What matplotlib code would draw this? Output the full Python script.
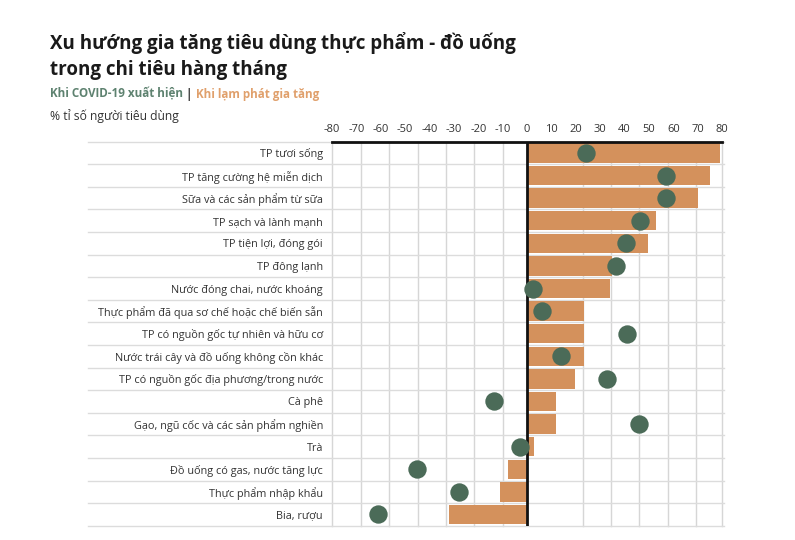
import matplotlib
matplotlib.use('Agg')
import matplotlib.pyplot as plt

plt.rcParams['font.family'] = ['Open Sans', 'DejaVu Sans']

categories = ['TP tươi sống', 'TP tăng cường hệ miễn dịch', 'Sữa và các sản phẩm từ sữa',
              'TP sạch và lành mạnh', 'TP tiện lợi, đóng gói', 'TP đông lạnh',
              'Nước đóng chai, nước khoáng', 'Thực phẩm đã qua sơ chế hoặc chế biến sẵn',
              'TP có nguồn gốc tự nhiên và hữu cơ', 'Nước trái cây và đồ uống không cồn khác',
              'TP có nguồn gốc địa phương/trong nước', 'Cà phê',
              'Gạo, ngũ cốc và các sản phẩm nghiền', 'Trà', 'Đồ uống có gas, nước tăng lực',
              'Thực phẩm nhập khẩu', 'Bia, rượu']
# Khi lạm phát gia tăng (bars)
inflation = [79, 75, 70, 53, 49.5, 35, 34, 23.5, 23.5, 23.5, 19.5, 12, 12, 3, -8, -11, -32]
# Khi COVID-19 xuất hiện (dots)
covid = [24, 57, 57, 46.5, 40.5, 36.5, 2.5, 6, 41, 14, 33, -13.5, 46, -3, -45, -28, -61]
ticks = list(range(-80, 81, 10))

ORANGE = '#d4915c'
GREEN = '#4b6b58'
W, H = 795, 540

fig = plt.figure(figsize=(W / 100, H / 100), dpi=100)
ax = fig.add_axes([332 / W, 1 - 525.7 / H, 390 / W, 384 / H])

ypos = list(range(len(categories)))
ax.set_xlim(-80, 80)
ax.set_ylim(len(categories) - 0.5, -0.5)

# background table grid
grid_x = [-80, -68, -56.6, -44.7, -33.2, -21.7, -9.8, 23, 34.5, 46, 57.8, 69.3, 80]
for gx in grid_x:
    ax.axvline(gx, color='#d6d6d6', lw=1, zorder=0, clip_on=False)
for i in range(len(categories) + 1):
    ax.plot([-0.626, 1.005], [i - 0.5, i - 0.5], color='#dcdcdc', lw=1,
            transform=ax.get_yaxis_transform(), clip_on=False, zorder=0)

ax.barh(ypos, inflation, height=0.86, color=ORANGE, zorder=2)
ax.axvline(0, color='#111111', lw=2, zorder=3)
ax.scatter(covid, ypos, s=175, color=GREEN, zorder=4, linewidths=0)

ax.xaxis.tick_top()
ax.set_xticks(ticks)
ax.set_xticklabels([str(t) for t in ticks], fontsize=8, color='#333333')
ax.set_yticks(ypos)
ax.set_yticklabels(categories, fontsize=7.8, color='#333333')
ax.tick_params(length=0)
ax.tick_params(axis='x', pad=5)
ax.tick_params(axis='y', pad=6.5)
for s in ['left', 'right', 'bottom']:
    ax.spines[s].set_visible(False)
ax.spines['top'].set_color('#111111')
ax.spines['top'].set_linewidth(2)

# titles
fig.text(50 / W, 1 - 49 / H, 'Xu hướng gia tăng tiêu dùng thực phẩm - đồ uống',
         fontsize=13.5, fontweight='bold', color='#1a1a1a', va='baseline')
fig.text(50 / W, 1 - 75 / H, 'trong chi tiêu hàng tháng',
         fontsize=13.5, fontweight='bold', color='#1a1a1a', va='baseline')

renderer = fig.canvas.get_renderer()
x0 = 50 / W
parts = [('Khi COVID-19 xuất hiện', '#5e8270'), (' | ', '#333333'),
         ('Khi lạm phát gia tăng', '#e0a06c')]
for txt, col in parts:
    t = fig.text(x0, 1 - 98 / H, txt, fontsize=8.4, fontweight='bold', color=col, va='baseline')
    bb = t.get_window_extent(renderer)
    x0 = bb.x1 / W

fig.text(50 / W, 1 - 120 / H, '% tỉ số người tiêu dùng', fontsize=8.7, color='#333333',
         va='baseline')

fig.savefig('out.png', dpi=100)
